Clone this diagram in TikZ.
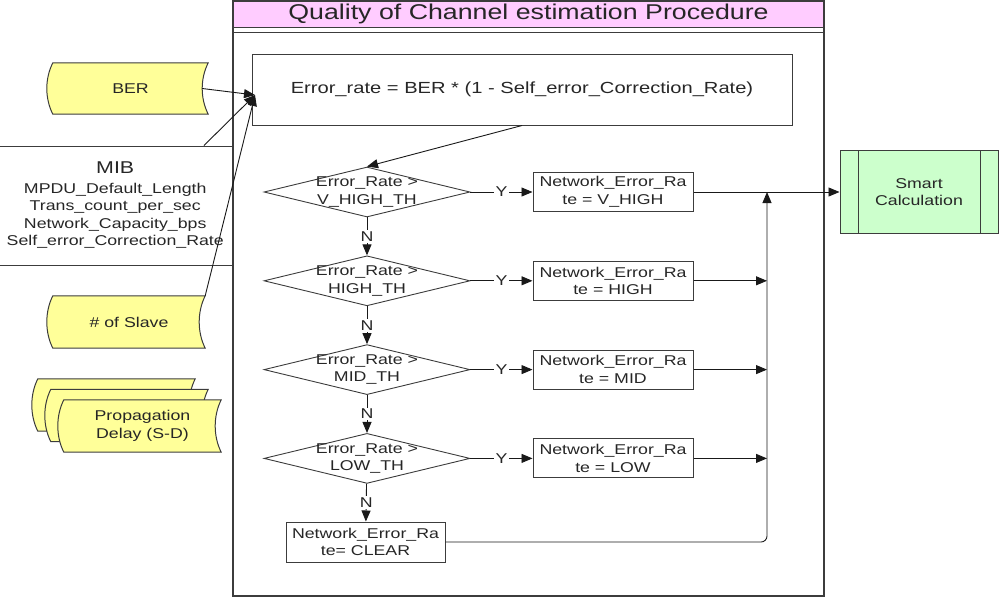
\documentclass[tikz,border=0pt]{standalone}
\usepackage{fontspec}
\setmainfont{Liberation Sans}[FakeStretch=1.25]
\usetikzlibrary{shapes.geometric,arrows.meta,backgrounds}
\definecolor{tapefill}{HTML}{FFFF99}
\definecolor{smartfill}{HTML}{CCFFCC}
\definecolor{titlefill}{HTML}{FFCCFF}
\definecolor{linegray}{HTML}{3C3C3C}
\definecolor{textgray}{HTML}{262626}
\tikzset{
	arr/.style={draw=black!90, line width=0.9pt, -{Triangle[length=11pt,width=9pt]}},
	box/.style={draw=linegray, line width=1pt, text=textgray, inner sep=0pt, align=center},
	store/.style={text=textgray, inner sep=0pt, align=center, minimum width=155pt, minimum height=52pt},
	decision/.style={diamond, draw=linegray, line width=0.9pt, inner sep=0pt, minimum width=206pt, minimum height=50pt},
	dlabel/.style={text=textgray, align=center, inner sep=0pt},
	yn/.style={fill=white, text=textgray, inner sep=1.5pt},
}
\newcommand{\storedpath}[1]{(#1.north west) -- (#1.north east) .. controls +(-8pt,-16pt) and +(-8pt,16pt) .. (#1.south east) -- (#1.south west) .. controls +(-8pt,16pt) and +(-8pt,-16pt) .. (#1.north west) -- cycle}
\begin{document}
\begin{tikzpicture}[x=1pt, y=-1pt, font=\fontsize{14.2}{17.5}\selectfont]
						\useasboundingbox (0,0) rectangle (1000,598);
						
						\fill[titlefill] (233,1) rectangle (824,27);
						\draw[linegray, line width=1.5pt] (233,1) rectangle (824,596);
						\draw[linegray, line width=1pt] (233,27) -- (824,27) (233,32) -- (824,32);
						\node[text=textgray, font=\fontsize{21.4}{24}\selectfont] (title) at (528.5,14) {Quality of Channel estimation Procedure};
						
						\node[box, minimum width=236.5pt, minimum height=119pt] (mib) at (115.25,205.5) {{\fontsize{17.1}{20}\selectfont MIB}\\[2pt] MPDU\_Default\_Length\\Trans\_count\_per\_sec\\Network\_Capacity\_bps\\Self\_error\_Correction\_Rate};
						\node[store, minimum width=155pt, minimum height=51pt] (ber) at (130.5,88.5) {BER};
						\node[store, minimum width=152pt] (slave) at (129,322) {\# of Slave};
						\node[store, minimum width=157pt] (propc) at (116.5,405) {};
						\node[store, minimum width=157pt] (propb) at (129.5,415.5) {};
						\node[store, minimum width=157pt] (prop) at (142.5,426) {Propagation\\Delay (S-D)};
						\begin{pgfonlayer}{background}
							\foreach \s in {propc, propb, prop, ber, slave} \filldraw[fill=tapefill, draw=linegray, line width=1pt] \storedpath{\s};
						\end{pgfonlayer}
						
						\node[box, minimum width=540pt, minimum height=71pt, font=\fontsize{16.1}{19}\selectfont] (err) at (522,89.5) {Error\_rate = BER * (1 - Self\_error\_Correction\_Rate)};
						\coordinate (in) at (255,95);
						\draw[arr] ([xshift=-6pt]ber.east) -- (in);
						\draw[arr] ([xshift=-30pt]mib.north east) -- (in);
						\draw[arr] (slave.north east) -- (in);
						
						\foreach \i/\th/\val/\yy in {1/V\_HIGH\_TH/V\_HIGH/192, 2/HIGH\_TH/HIGH/280.8, 3/MID\_TH/MID/369.6, 4/LOW\_TH/LOW/458.4} {
							\node[decision, label={[dlabel]center:Error\_Rate >\\\th}] (d\i) at (367,\yy) {};
							\node[box, minimum width=160pt, minimum height=39pt] (r\i) at (613,\yy) {Network\_Error\_Ra\\te = \val};
							\draw[arr] (d\i) -- node[yn] {Y} (r\i);
						}
						\node[box, minimum width=159pt, minimum height=40pt] (clear) at (365.5,542) {Network\_Error\_Ra\\te= CLEAR};
						\node[box, fill=smartfill, minimum width=158pt, minimum height=83pt] (smart) at (919,192) {Smart\\Calculation};
						\draw[linegray, line width=1pt] ([xshift=19pt]smart.north west) -- ([xshift=19pt]smart.south west) ([xshift=-18pt]smart.north east) -- ([xshift=-18pt]smart.south east);
						
						\draw[arr] (err.south) -- (d1.north);
						\foreach \i/\j in {1/2, 2/3, 3/4} \draw[arr] (d\i) -- node[yn] {N} (d\j);
						\draw[arr] (d4) -- node[yn] {N} (clear);
						
						\coordinate (merge) at (767,192);
						\foreach \i in {2, 3, 4} \draw[arr] (r\i) -- (r\i -| merge);
						\draw[arr, rounded corners=6pt] (clear) -- (clear -| merge) -- (merge);
						\draw[arr] (r1) -- (smart);
					\end{tikzpicture}
\end{document}
